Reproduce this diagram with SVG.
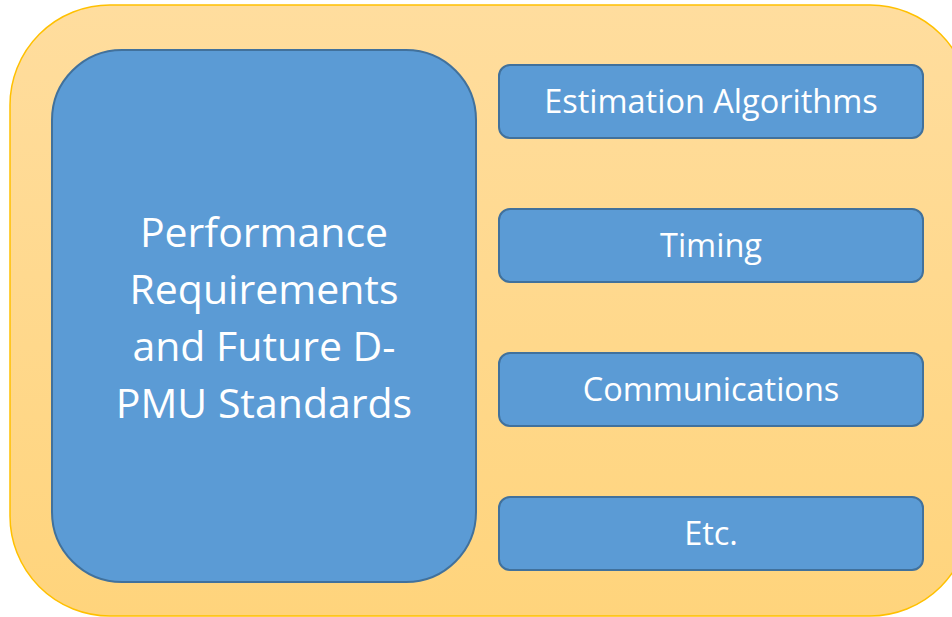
<svg xmlns="http://www.w3.org/2000/svg" width="952" height="617" viewBox="0 0 952 617">
<defs>
<linearGradient id="og" x1="0" y1="0" x2="0" y2="1">
<stop offset="0" stop-color="#FFDD9E"/>
<stop offset="1" stop-color="#FFD47C"/>
</linearGradient>
</defs>
<style>
.blue{fill:#5B9BD5;stroke:#41719C;stroke-width:2}
.t{fill:#FFFFFF;font-family:"Open Sans","Noto Sans",sans-serif;text-anchor:middle}
.big{font-size:41px}
.sm{font-size:32.5px}
</style>
<g id="container">
<rect x="10" y="5" width="960" height="611" rx="100" ry="100" fill="url(#og)" stroke="#FFC000" stroke-width="1.5"/>
</g>
<g id="main">
<rect class="blue" x="52" y="50" width="424" height="532" rx="70" ry="70"/>
<text class="t big" x="264" y="247">Performance</text>
<text class="t big" x="264" y="304">Requirements</text>
<text class="t big" x="264" y="361">and Future D-</text>
<text class="t big" x="264" y="418">PMU Standards</text>
</g>
<g id="estimation">
<rect class="blue" x="499" y="65" width="424" height="73" rx="11" ry="11"/>
<text class="t sm" x="711" y="113">Estimation Algorithms</text>
</g>
<g id="timing">
<rect class="blue" x="499" y="209" width="424" height="73" rx="11" ry="11"/>
<text class="t sm" x="711" y="257">Timing</text>
</g>
<g id="communications">
<rect class="blue" x="499" y="353" width="424" height="73" rx="11" ry="11"/>
<text class="t sm" x="711" y="401">Communications</text>
</g>
<g id="etc">
<rect class="blue" x="499" y="497" width="424" height="73" rx="11" ry="11"/>
<text class="t sm" x="711" y="545">Etc.</text>
</g>
<g id="connectors"/>
</svg>
